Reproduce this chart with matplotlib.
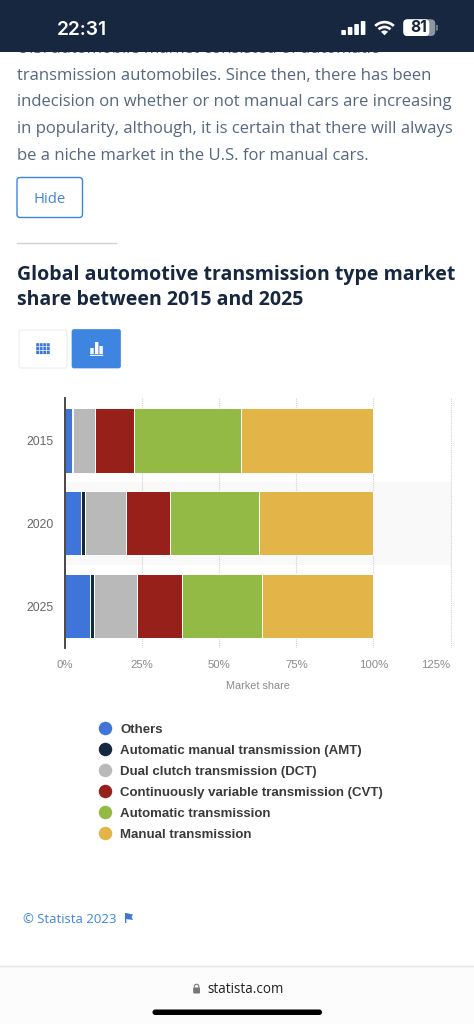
import matplotlib
matplotlib.use("Agg")
import matplotlib.pyplot as plt
from matplotlib.patches import Rectangle, FancyBboxPatch, Wedge, Polygon
from matplotlib.lines import Line2D

years = ["2015", "2020", "2025"]
series_names = ["Others", "Automatic manual transmission (AMT)", "Dual clutch transmission (DCT)",
                "Continuously variable transmission (CVT)", "Automatic transmission", "Manual transmission"]
others = [2.2, 5.3, 8.2]
amt = [0.5, 1.1, 1.3]
dct = [6.9, 13.3, 13.7]
cvt = [12.9, 14.3, 14.8]
automatic = [34.5, 28.8, 26.0]
manual = [43.0, 37.2, 36.0]
colors = ["#3f75d9", "#14283f", "#b9b9b9", "#98201a", "#93ba45", "#e3b548"]
x_ticks = [0, 25, 50, 75, 100, 125]

W, H = 474, 1024
fig = plt.figure(figsize=(W / 100, H / 100), dpi=100, facecolor="white")

def axes_px(x0, y0, x1, y1, **kw):
    return fig.add_axes([x0 / W, 1 - y1 / H, (x1 - x0) / W, (y1 - y0) / H], **kw)

# Page overlay in pixel coordinates
ui = axes_px(0, 0, W, H, zorder=1)
ui.set_xlim(0, W); ui.set_ylim(H, 0); ui.axis("off")
OS = "Open Sans"
body = "#56677f"
BLUE = "#3d85e0"
for y, s in zip([53, 80, 106.5, 133, 159.5], ["U.S. automobile market consisted of automatic",
        "transmission automobiles. Since then, there has been",
        "indecision on whether or not manual cars are increasing",
        "in popularity, although, it is certain that there will always",
        "be a niche market in the U.S. for manual cars."]):
    ui.text(17, y, s, fontsize=11.97, family=OS, color=body, va="baseline", zorder=1)

def px(patch, z=4):
    patch.set_snap(False)
    patch.set_zorder(z)
    ui.add_patch(patch)

ui.add_patch(Rectangle((0, 0), W, 51.7, color="#16273f", zorder=3, lw=0))
ui.text(57, 35, "22:31", fontsize=13.8, family="Inter", weight="semibold", color="white", va="baseline", zorder=4)
for i, h in enumerate([5, 8, 11, 14]):
    px(FancyBboxPatch((341.3 + i * 6.5, 35 - h), 4.6, h, boxstyle="round,pad=0,rounding_size=0.8", color="white", lw=0))
px(Wedge((384.5, 35.3), 14.5, 225, 315, width=2.7, color="white", lw=0))
px(Wedge((384.5, 35.3), 9.7, 225, 315, width=2.7, color="white", lw=0))
px(Wedge((384.5, 35.3), 4.9, 225, 315, color="white", lw=0))
px(FancyBboxPatch((403.3, 19.3), 32, 16.7, boxstyle="round,pad=0,rounding_size=4.5", color="#8d96a3", lw=0))
px(FancyBboxPatch((403.3, 19.3), 26, 16.7, boxstyle="round,pad=0,rounding_size=4", color="white", lw=0))
px(Rectangle((436.2, 25), 1.5, 5.5, color="#8d96a3", lw=0))
ui.text(419, 32.5, "81", fontsize=11.2, family="Inter", weight="bold", color="#16273f", ha="center", va="baseline", zorder=5)

ui.add_patch(FancyBboxPatch((17, 177.5), 65.5, 40, boxstyle="round,pad=0,rounding_size=3", fc="white", ec=BLUE, lw=1))
ui.text(49.7, 202.7, "Hide", fontsize=10.7, family=OS, color=BLUE, ha="center", va="baseline")
ui.add_line(Line2D([17, 116], [242.5, 242.5], color="#d2d2d2", lw=1))
ui.text(17, 280, "Global automotive transmission type market", fontsize=14.0, family=OS, weight="bold", color="#16273f", va="baseline")
ui.text(17, 305, "share between 2015 and 2025", fontsize=14.0, family=OS, weight="bold", color="#16273f", va="baseline")

ui.add_patch(FancyBboxPatch((19, 330), 48, 38, boxstyle="round,pad=0,rounding_size=2", fc="white", ec="#f0f0f0", lw=1))
ui.add_patch(FancyBboxPatch((72, 329.5), 48.5, 38.5, boxstyle="round,pad=0,rounding_size=2", fc=BLUE, ec=BLUE, lw=0.5))
for r in range(3):
    for c in range(4):
        px(Rectangle((36.2 + c * 3.55, 343.2 + r * 3.85), 2.9, 3.2, color="#3d78d8", lw=0))
for x, y0 in [(90.3, 348), (95, 342), (99.4, 346)]:
    px(Rectangle((x, y0), 3.4, 354 - y0, color="white", lw=0))
px(Rectangle((90, 354.8), 13.2, 1.1, color="white", lw=0))

ui.text(23, 922.7, "© Statista 2023", fontsize=9.45, family=OS, color=BLUE, va="baseline")
px(Rectangle((125, 913), 1.3, 10, color="#3d78d8", lw=0))
px(Polygon([(126, 913), (133, 914.5), (131.5, 917), (133, 920), (126, 919)], color="#3d78d8", lw=0))

ui.add_patch(Rectangle((0, 966), W, 58, color="#fcfcfc", lw=0, zorder=0))
ui.add_line(Line2D([0, W], [966.3, 966.3], color="#e2e2e2", lw=1))
px(FancyBboxPatch((193.2, 987.5), 6.8, 6, boxstyle="round,pad=0,rounding_size=1", color="#777777", lw=0))
px(Wedge((196.6, 986.5), 2.8, 180, 360, width=1.1, color="#777777", lw=0))
px(Rectangle((193.8, 986.3), 1.1, 1.5, color="#777777", lw=0))
px(Rectangle((198.3, 986.3), 1.1, 1.5, color="#777777", lw=0))
ui.text(207, 993.3, "statista.com", fontsize=9.75, family=OS, color="#222222", va="baseline")
ui.add_patch(FancyBboxPatch((152.5, 1009.5), 169.5, 5.5, boxstyle="round,pad=0,rounding_size=2.7", color="black", lw=0))

# Chart
ax = axes_px(65, 398.3, 452.3, 648.3, zorder=2)
ax.patch.set_alpha(0)
ax.set_xlim(0, 125.55)
ax.set_ylim(2.5 + 0.01, -0.5 - 0.01)
ax.axhspan(0.5, 1.5, color="#f9f9f9", lw=0, zorder=0)
ax.set_xticks(x_ticks)
ax.set_xticklabels([f"{t}%" for t in x_ticks])
ax.set_yticks(range(len(years)))
ax.set_yticklabels(years)
ax.xaxis.grid(True, color="#cfcfcf", ls=(0, (1, 1)), lw=0.8, zorder=1)
ax.set_axisbelow(True)
left = [0.0] * 3
for name, vals, col in zip(series_names, [others, amt, dct, cvt, automatic, manual], colors):
    ax.barh(range(3), vals, left=left, height=0.775, color=col, edgecolor="white", linewidth=0.7, label=name, zorder=3)
    left = [a + b for a, b in zip(left, vals)]
for s in ["top", "right", "bottom"]:
    ax.spines[s].set_visible(False)
ax.spines["left"].set_color("#3a3a3a")
ax.spines["left"].set_linewidth(1.3)
ax.spines["left"].set_zorder(5)
ax.tick_params(length=0)
ax.tick_params(axis="x", labelcolor="#8a8a8a", labelsize=8.2, pad=8.3)
ax.tick_params(axis="y", labelcolor="#666666", labelsize=8.7, pad=8)
for lab in ax.get_xticklabels() + ax.get_yticklabels():
    lab.set_family("Liberation Sans")
ax.get_xticklabels()[-1].set_ha("right")
ax.set_xlabel("Market share", fontsize=7.8, family="Liberation Sans", color="#8a8a8a")
ax.xaxis.set_label_coords((258 - 65) / (452.3 - 65), -(681 - 648.3) / 250, transform=ax.transAxes)

handles = [Line2D([], [], ls="", marker="o", ms=9.7, color=c, mew=0) for c in colors]
leg = ax.legend(handles, series_names, loc="upper left", bbox_to_anchor=(98.5 / W, 1 - 723.8 / H),
                bbox_transform=fig.transFigure, frameon=False, borderpad=0, borderaxespad=0,
                handletextpad=0.66, labelspacing=0.665, handlelength=1.0,
                prop={"family": "Liberation Sans", "weight": "bold", "size": 9.5}, labelcolor="#3a3a3a")

fig.savefig("out.png", dpi=100)
